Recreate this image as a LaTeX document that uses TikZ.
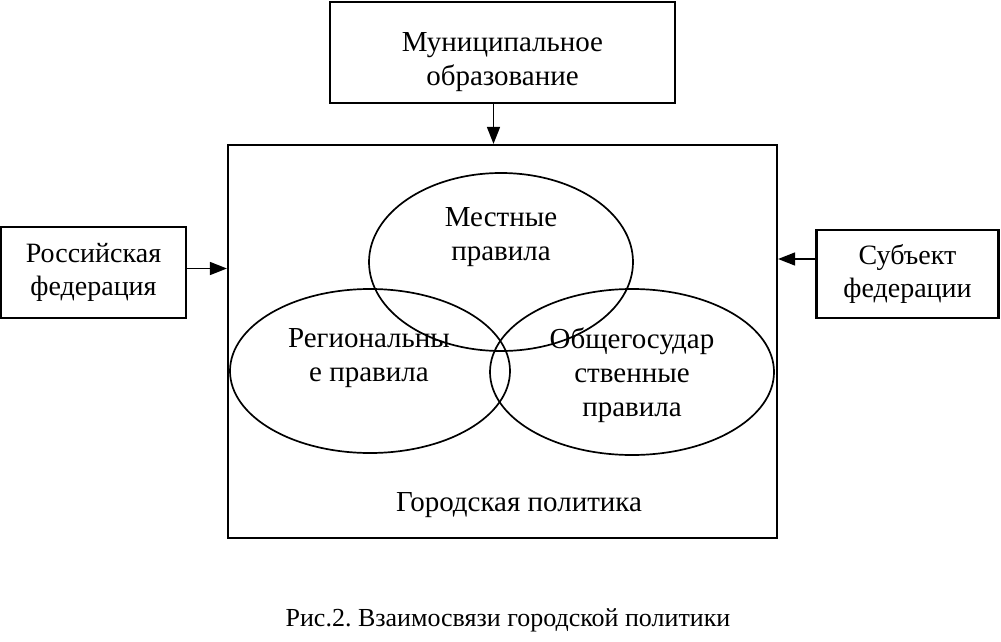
\documentclass[tikz,border=0pt]{standalone}
\usepackage{fontspec}
\setmainfont{Liberation Serif}
\usetikzlibrary{arrows.meta,calc,positioning,shapes.geometric}
\frenchspacing

\begin{document}
\begin{tikzpicture}[x=1pt,y=-1pt,
    box/.style={draw,line width=2.2pt,inner sep=0pt,align=center,font=\fontsize{28}{33}\selectfont},
    rules/.style={draw,ellipse,line width=1.7pt,inner sep=0pt},
    lbl/.style={align=center,inner sep=0pt,font=\fontsize{29}{34}\selectfont},
    flow/.style={-{Triangle[length=17pt,width=13pt]},line width=1.6pt}]
    \useasboundingbox (0,0) rectangle (1001,642);

    % outer boxes
    \node[box,minimum width=345pt,minimum height=101pt] (muni) at (502.5,52.5) {};
    \node[lbl] (munitext) at ([yshift=-10pt]muni.center) {Муниципальное\\образование};
    \node[box,minimum width=185pt,minimum height=91pt] (rf) at (93.5,272.5) {Российская\\федерация};
    \node[box,minimum width=182pt,minimum height=88pt] (subj) at (907.5,274) {Субъект\\федерации};

    % city policy
    \node[box,minimum width=549pt,minimum height=393pt] (city) at (502.5,341.5) {};
    \node[rules,minimum width=264pt,minimum height=178pt] (local) at (501,262) {};
    \node[rules,minimum width=280pt,minimum height=164pt] (region) at (370,371) {};
    \node[rules,minimum width=284pt,minimum height=166pt] (state) at (632,372) {};
    \node[lbl] (localtext) at (501,237) {Местные\\правила};
    \node[lbl] (regiontext) at (369,358) {Региональны\\е правила};
    \node[lbl] (statetext) at (632,375) {Общегосудар\\ственные\\правила};
    \node[lbl] (citytext) at (519,505) {Городская политика};

    \draw[flow] ([xshift=-9pt]muni.south) -- ([xshift=-9pt]muni.south |- city.north);
    \draw[flow] ([yshift=4pt]rf.east) -- ([yshift=4pt]rf.east -| city.west);
    \draw[flow] ([yshift=15pt]subj.west) -- ([yshift=15pt]subj.west -| city.east);

    \node[lbl,font=\fontsize{26}{31}\selectfont] (caption) at (508,620) {Рис.2. Взаимосвязи городской политики};
  \end{tikzpicture}
\end{document}
